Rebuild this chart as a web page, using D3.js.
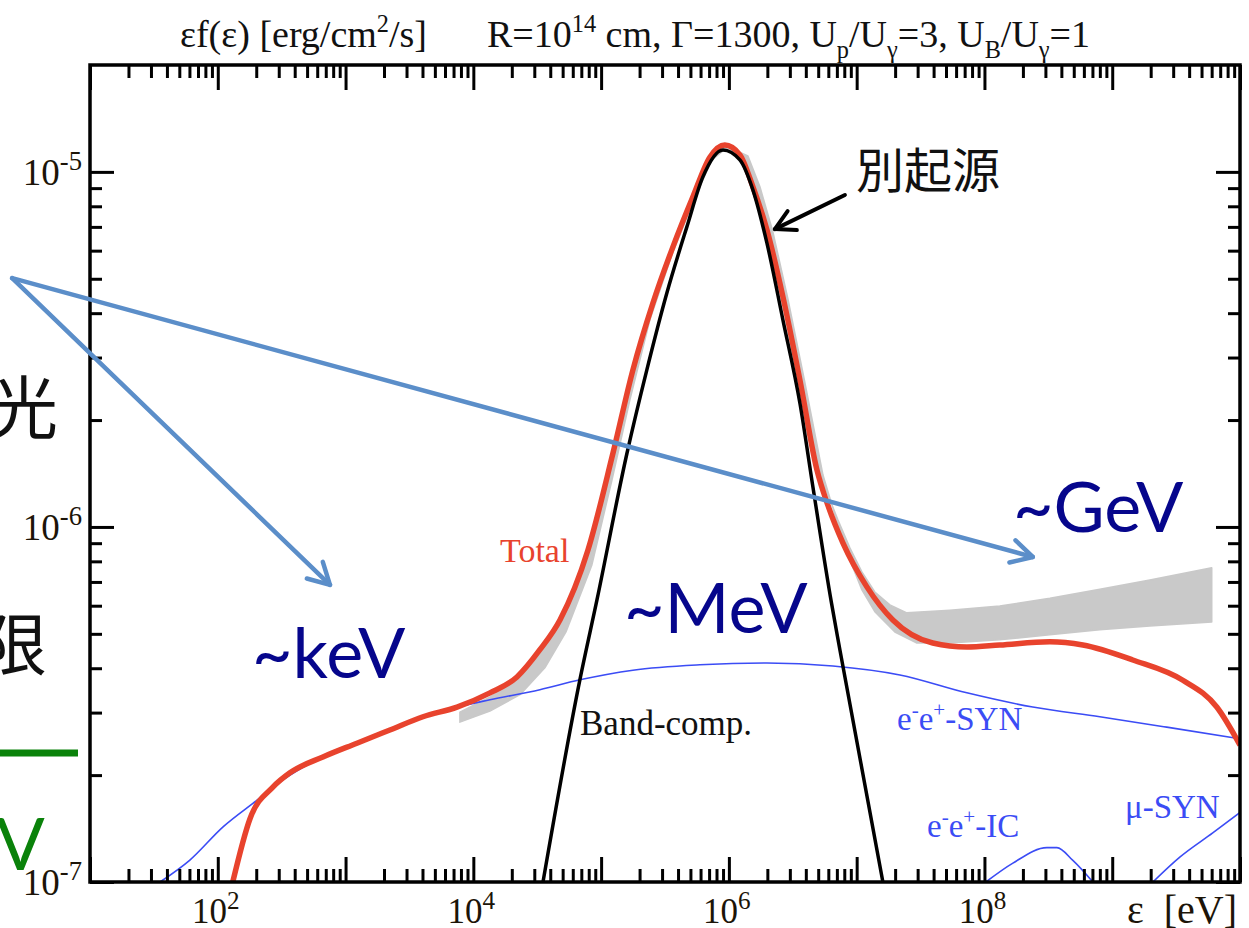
<!DOCTYPE html>
<html>
<head>
<meta charset="utf-8">
<script src="https://cdn.jsdelivr.net/npm/d3@7"></script>
<style>
body { margin: 0; background: #fff; }
svg { display: block; }
text { white-space: pre; }
</style>
</head>
<body>
<div id="chart"></div>
<script>
// values: photon energy [eV] vs eps*f(eps) [erg/cm2/s]
var totalE = [131, 179, 270, 367, 665, 1227, 2223, 4035, 7450, 13490, 21950, 33180, 47640, 78900, 123600, 177400, 254300, 364800, 522700, 709800, 930000, 1.219e6, 1.541e6, 1.983e6, 2.647e6, 3.597e6, 4.88e6, 5.96e6, 7.80e6, 1.202e7, 1.92e7, 3.94e7, 7.28e7, 1.318e8, 3.25e8, 5.89e8, 1.449e9, 3.57e9, 6.58e9, 1e10];
var totalF = [1.0e-7, 1.51e-7, 1.85e-7, 2.03e-7, 2.25e-7, 2.46e-7, 2.68e-7, 2.92e-7, 3.11e-7, 3.41e-7, 3.78e-7, 4.51e-7, 5.47e-7, 8.61e-7, 1.61e-6, 2.77e-6, 4.27e-6, 6.15e-6, 8.51e-6, 1.10e-5, 1.19e-5, 1.117e-5, 9.08e-6, 6.87e-6, 4.45e-6, 2.59e-6, 1.45e-6, 1.15e-6, 9.02e-7, 6.78e-7, 5.47e-7, 4.71e-7, 4.59e-7, 4.65e-7, 4.75e-7, 4.65e-7, 4.22e-7, 3.70e-7, 3.11e-7, 2.43e-7];

var bandE = [35090, 68200, 92700, 159200, 228000, 327000, 469000, 626000, 898000, 1.219e6, 1.541e6, 1.983e6, 2.647e6, 3.597e6, 4.54e6, 6.35e6, 7.39e6, 1.604e7];
var bandF = [1e-7, 3.71e-7, 6.22e-7, 1.61e-6, 2.77e-6, 4.56e-6, 7.00e-6, 9.68e-6, 1.153e-5, 1.081e-5, 8.90e-6, 6.31e-6, 3.83e-6, 2.23e-6, 1.30e-6, 6.11e-7, 4.51e-7, 1e-7];

var synE = [35.3, 60.5, 110, 203, 324, 665, 1227, 2223, 4035, 7450, 13490, 33180, 68200, 177400, 593000, 1.983e6, 6.52e6, 2.18e7, 7.28e7, 2.39e8, 8.0e8, 2.67e9, 1e10];
var synF = [1e-7, 1.153e-7, 1.43e-7, 1.70e-7, 1.94e-7, 2.25e-7, 2.46e-7, 2.68e-7, 2.92e-7, 3.11e-7, 3.26e-7, 3.48e-7, 3.71e-7, 3.95e-7, 4.09e-7, 4.14e-7, 4.06e-7, 3.83e-7, 3.41e-7, 3.11e-7, 2.92e-7, 2.73e-7, 2.53e-7];

var icE = [1.026e8, 1.67e8, 3.08e8, 3.69e8, 4.92e8, 7.05e8];
var icF = [1e-7, 1.13e-7, 1.25e-7, 1.25e-7, 1.15e-7, 1.0e-7];

var muE = [2.08e9, 3.38e9, 6.12e9, 1e10];
var muF = [1e-7, 1.175e-7, 1.375e-7, 1.57e-7];

// observed (grey) band: upper edge left->right, lower edge right->left
var obsUpE = [7850, 13490, 21950, 33180, 47640, 78900, 123600, 177400, 254300, 364800, 522700, 709800, 948000, 1.265e6, 1.596e6, 2.055e6, 2.74e6, 3.72e6, 5.06e6, 7.13e6, 8.85e6, 1.099e7, 1.387e7, 1.82e7, 2.47e7, 5.36e7, 1.318e8, 3.25e8, 8.0e8, 1.97e9, 6.01e9];
var obsUpF = [3.01e-7, 3.32e-7, 3.71e-7, 4.45e-7, 5.40e-7, 8.51e-7, 1.60e-6, 2.74e-6, 4.22e-6, 6.07e-6, 8.39e-6, 1.089e-5, 1.175e-5, 1.10e-5, 8.96e-6, 6.78e-6, 4.38e-6, 2.56e-6, 1.43e-6, 1.047e-6, 8.73e-7, 7.47e-7, 6.56e-7, 6.03e-7, 5.73e-7, 5.83e-7, 5.99e-7, 6.30e-7, 6.68e-7, 7.09e-7, 7.67e-7];
var obsLoE = [6.01e9, 1.97e9, 8.0e8, 3.25e8, 1.318e8, 5.36e7, 2.96e7, 1.99e7, 1.387e7, 1.099e7, 8.85e6, 7.13e6, 5.45e6, 3.935e6, 2.90e6, 2.21e6, 1.75e6, 1.41e6, 982000, 736000, 532000, 358000, 241000, 168000, 121600, 84700, 53100, 36300, 23200, 13490, 7850];
var obsLoF = [5.40e-7, 5.26e-7, 5.13e-7, 4.97e-7, 4.81e-7, 4.71e-7, 4.71e-7, 5.06e-7, 5.77e-7, 6.65e-7, 8.07e-7, 1.014e-6, 1.40e-6, 2.55e-6, 4.38e-6, 6.78e-6, 9.08e-6, 1.109e-5, 1.175e-5, 1.081e-5, 8.34e-6, 5.83e-6, 3.83e-6, 2.28e-6, 1.356e-6, 7.82e-7, 5.06e-7, 4.01e-7, 3.37e-7, 3.03e-7, 2.82e-7];

var xMajor = [1e1, 1e2, 1e3, 1e4, 1e5, 1e6, 1e7, 1e8, 1e9, 1e10];
var xLabels = [1e2, 1e4, 1e6, 1e8];
var yMajor = [1e-7, 1e-6, 1e-5];

var width = 1249,
    height = 928;

var x = d3.scaleLog().domain([1e1, 1e10]).range([90, 1240]);
var y = d3.scaleLog().domain([1e-7, 2e-5]).range([882, 65]);

var xMinor = [], yMinor = [];
for (var n = 1; n < 10; n++)
    for (var k = 2; k < 10; k++) xMinor.push(k * Math.pow(10, n));
[-7, -6].forEach(function(n) {
    for (var k = 2; k < 10; k++) yMinor.push(k * Math.pow(10, n));
});

var svg = d3.select("#chart").append("svg")
    .attr("width", width)
    .attr("height", height);

svg.append("defs").append("clipPath").attr("id", "plotclip")
  .append("rect").attr("x", 90).attr("y", 65).attr("width", 1150).attr("height", 817);

function zip(a, b) { return a.map(function(v, i) { return [v, b[i]]; }); }

var line = d3.line()
    .x(function(d) { return x(d[0]); })
    .y(function(d) { return y(d[1]); })
    .curve(d3.curveMonotoneX);

var plot = svg.append("g").attr("clip-path", "url(#plotclip)");

// grey band
var bandPts = zip(obsUpE, obsUpF).concat(zip(obsLoE, obsLoF));
plot.append("path")
    .attr("d", d3.line().x(function(d) { return x(d[0]); }).y(function(d) { return y(d[1]); })
        .curve(d3.curveLinearClosed)(bandPts))
    .attr("fill", "#c9c9c9")
    .attr("stroke", "#c9c9c9")
    .attr("stroke-width", 1.5)
    .attr("stroke-linejoin", "round");

// thin blue components
[[synE, synF], [icE, icF], [muE, muF]].forEach(function(s) {
    plot.append("path")
        .attr("d", line(zip(s[0], s[1])))
        .attr("fill", "none")
        .attr("stroke", "#3b4cf5")
        .attr("stroke-width", 1.6);
});

plot.append("path")
    .attr("d", line(zip(totalE, totalF)))
    .attr("fill", "none")
    .attr("stroke", "#e8432d")
    .attr("stroke-width", 5.5);

plot.append("path")
    .attr("d", line(zip(bandE, bandF)))
    .attr("fill", "none")
    .attr("stroke", "#000")
    .attr("stroke-width", 3.5);

// axes: ticks pointing inward on all four sides
function ticks(axis, vals, len, tr) {
    var g = svg.append("g").attr("transform", tr)
        .call(axis.tickValues(vals).tickSize(-len).tickFormat(""));
    g.select(".domain").remove();
    g.selectAll("line").attr("stroke", "#000").attr("stroke-width", 3);
}
ticks(d3.axisBottom(x), xMajor, 25, "translate(0,882)");
ticks(d3.axisBottom(x), xMinor, 13, "translate(0,882)");
ticks(d3.axisTop(x), xMajor, 25, "translate(0,65)");
ticks(d3.axisTop(x), xMinor, 13, "translate(0,65)");
ticks(d3.axisLeft(y), yMajor, 24, "translate(90,0)");
ticks(d3.axisLeft(y), yMinor, 12, "translate(90,0)");
ticks(d3.axisRight(y), yMajor, 24, "translate(1240,0)");
ticks(d3.axisRight(y), yMinor, 12, "translate(1240,0)");

svg.append("rect")
    .attr("x", 90).attr("y", 65).attr("width", 1150).attr("height", 817)
    .attr("fill", "none").attr("stroke", "#000").attr("stroke-width", 3.5);

// text with super/subscripts
function rich(sel, parts, size, ratio) {
    var off = 0, r = ratio || 0.64;
    parts.forEach(function(p) {
        var s = p[1] || "";
        var target = s == "sup" ? -0.4 * size : s == "sub" ? 0.28 * size : 0;
        sel.append("tspan")
            .attr("dy", target - off)
            .style("font-size", (s ? r * size : size) + "px")
            .text(p[0]);
        off = target;
    });
    return sel;
}

var serif = "'Liberation Serif', 'Times New Roman', serif";

// left-side slide text, cut off by the page edge
var cjk = "'Noto Sans CJK JP', sans-serif";
svg.append("text").attr("x", -10).attr("y", 433).style("font-family", cjk).style("font-size", "68px").attr("fill", "#111").text("光");
svg.append("text").attr("x", -21).attr("y", 670).style("font-family", cjk).style("font-size", "68px").attr("fill", "#111").text("限");
svg.append("line").attr("x1", 0).attr("x2", 78).attr("y1", 753).attr("y2", 753).attr("stroke", "#0a820a").attr("stroke-width", 7);
svg.append("text").attr("x", -4).attr("y", 870).style("font-family", "Lato, sans-serif").style("font-size", "72px").attr("fill", "#0a820a").text("V");

// tick labels
yMajor.forEach(function(v) {
    rich(svg.append("text").attr("x", 82).attr("y", y(v) + 13).attr("text-anchor", "end")
        .style("font-family", serif).attr("fill", "#1c1408"),
        [["10"], [String(Math.round(Math.log10(v))), "sup"]], 37, 0.72);
});
xLabels.forEach(function(v) {
    rich(svg.append("text").attr("x", x(v) - 2).attr("y", 923).attr("text-anchor", "middle")
        .style("font-family", serif).attr("fill", "#1c1408"),
        [["10"], [String(Math.round(Math.log10(v))), "sup"]], 35, 0.72);
});
svg.append("text").attr("x", 1237).attr("y", 923).attr("text-anchor", "end")
    .style("font-family", serif).style("font-size", "40px").attr("fill", "#1c1408").text("ε  [eV]");

// title line
rich(svg.append("text").attr("x", 180).attr("y", 47).style("font-family", serif).attr("fill", "#111"),
    [["εf(ε) [erg/cm"], ["2", "sup"], ["/s]"]], 38);
rich(svg.append("text").attr("x", 487).attr("y", 47).style("font-family", serif).attr("fill", "#111"),
    [["R=10"], ["14", "sup"], [" cm, Γ=1300, U"], ["p", "sub"], ["/U"], ["γ", "sub"], ["=3, U"], ["B", "sub"], ["/U"], ["γ", "sub"], ["=1"]], 38);

// curve labels
svg.append("text").attr("x", 500).attr("y", 562).style("font-family", serif).style("font-size", "34px").attr("fill", "#e8432d").text("Total");
svg.append("text").attr("x", 580).attr("y", 735).style("font-family", serif).style("font-size", "35px").attr("fill", "#111").text("Band-comp.");
rich(svg.append("text").attr("x", 897).attr("y", 730).style("font-family", serif).attr("fill", "#3b4cf5"),
    [["e"], ["-", "sup"], ["e"], ["+", "sup"], ["-SYN"]], 33);
rich(svg.append("text").attr("x", 927).attr("y", 837).style("font-family", serif).attr("fill", "#3b4cf5"),
    [["e"], ["-", "sup"], ["e"], ["+", "sup"], ["-IC"]], 33);
svg.append("text").attr("x", 1125).attr("y", 818).style("font-family", serif).style("font-size", "33px").attr("fill", "#3b4cf5").text("μ-SYN");

// energy-band callouts
var navy = "#06068c", sans = "Lato, sans-serif";
svg.append("text").attr("x", 252).attr("y", 678).style("font-family", sans).style("font-size", "70px").attr("fill", navy).text("~keV");
svg.append("text").attr("x", 624).attr("y", 633).style("font-family", sans).style("font-size", "70px").attr("fill", navy).text("~MeV");
svg.append("text").attr("x", 1013).attr("y", 532).style("font-family", sans).style("font-size", "70px").attr("fill", navy).text("~GeV");

svg.append("text").attr("x", 856).attr("y", 188).style("font-family", cjk).style("font-size", "48px").attr("fill", "#111").text("別起源");

// arrows (end points given in data units)
function arrow(from, to, color, w, head) {
    var x1 = x(from[0]), y1 = y(from[1]), x2 = x(to[0]), y2 = y(to[1]);
    var a = Math.atan2(y2 - y1, x2 - x1);
    var g = svg.append("g").attr("fill", "none").attr("stroke", color)
        .attr("stroke-width", w).attr("stroke-linecap", "round").attr("stroke-linejoin", "round");
    g.append("line").attr("x1", x1).attr("y1", y1).attr("x2", x2).attr("y2", y2);
    var pts = [-0.5, 0, 0.5].map(function(s, i) {
        if (i == 1) return [x2, y2];
        return [x2 - head * Math.cos(a + s), y2 - head * Math.sin(a + s)];
    });
    g.append("path").attr("d", d3.line()(pts));
}
arrow([2.46, 5.02e-6], [755, 6.87e-7], "#5b8ec9", 4.5, 24);
arrow([2.46, 5.02e-6], [2.39e8, 8.23e-7], "#5b8ec9", 4.5, 24);
arrow([8.09e6, 8.61e-6], [2.29e6, 6.90e-6], "#000", 4, 22);
</script>
</body>
</html>
